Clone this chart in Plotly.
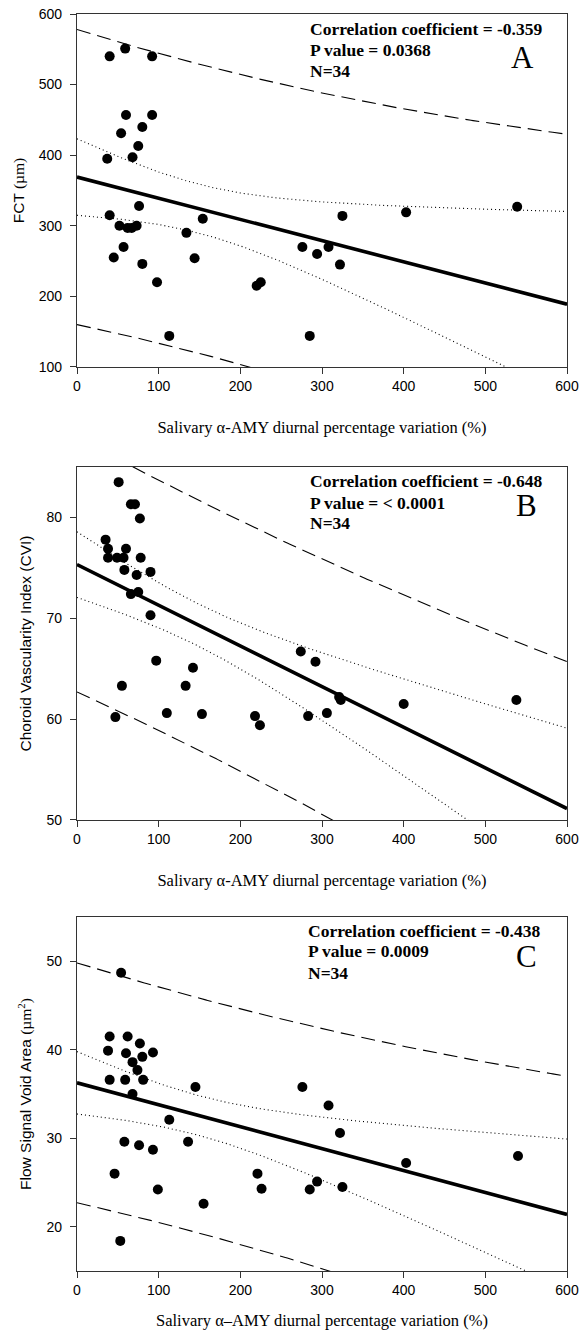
import numpy as np
import plotly.graph_objects as go

# ---------------- data ----------------
# Panel A : FCT (um)
amy_a = [40, 59, 92, 60, 92, 80, 54, 75, 37, 68,
         40, 76, 52, 62, 67, 73, 57, 45, 80, 98,
         113, 134, 154, 144, 220, 225, 276, 294, 308, 322,
         325, 285, 403, 539]
fct = [540, 551, 540, 457, 457, 440, 431, 413, 395, 397,
       315, 328, 300, 297, 297, 300, 270, 255, 246, 220,
       144, 290, 310, 254, 215, 220, 270, 260, 270, 245,
       314, 144, 319, 327]

# Panel B : Choroid Vascularity Index (CVI)
amy_b = [51, 66, 71, 77, 35, 38, 60, 38, 49, 57,
         78, 58, 73, 90, 66, 75, 90, 97, 142, 55,
         133, 274, 292, 321, 323, 400, 538, 218, 224, 283,
         306, 47, 110, 153]
cvi = [83.5, 81.3, 81.3, 79.9, 77.8, 76.9, 76.9, 76.0, 76.0, 76.0,
       76.0, 74.8, 74.3, 74.6, 72.4, 72.6, 70.3, 65.8, 65.1, 63.3,
       63.3, 66.7, 65.7, 62.2, 61.9, 61.5, 61.9, 60.3, 59.4, 60.3,
       60.6, 60.2, 60.6, 60.5]

# Panel C : Flow Signal Void Area (um^2)
amy_c = [54, 40, 62, 77, 38, 60, 80, 93, 68, 74,
         40, 59, 81, 145, 68, 113, 276, 308, 322, 403,
         540, 221, 226, 285, 294, 325, 58, 76, 93, 46,
         53, 99, 136, 155]
fsva = [48.7, 41.5, 41.5, 40.7, 39.9, 39.6, 39.2, 39.7, 38.6, 37.7,
        36.6, 36.6, 36.6, 35.8, 35.0, 32.1, 35.8, 33.7, 30.6, 27.2,
        28.0, 26.0, 24.3, 24.2, 25.1, 24.5, 29.6, 29.2, 28.7, 26.0,
        18.4, 24.2, 29.6, 22.6]

x_ticks = [0, 100, 200, 300, 400, 500, 600]
stats_a = ["Correlation coefficient = -0.359", "P value = 0.0368", "N=34"]
stats_b = ["Correlation coefficient = -0.648", "P value = < 0.0001", "N=34"]
stats_c = ["Correlation coefficient = -0.438", "P value = 0.0009", "N=34"]

T_CRIT = 2.0369  # t(0.975, df=32)


def regression_bands(x, y, grid):
    x = np.asarray(x, float)
    y = np.asarray(y, float)
    n = len(x)
    b1, b0 = np.polyfit(x, y, 1)
    resid = y - (b0 + b1 * x)
    s = np.sqrt(np.sum(resid ** 2) / (n - 2))
    xbar = x.mean()
    sxx = np.sum((x - xbar) ** 2)
    yhat = b0 + b1 * grid
    se_c = s * np.sqrt(1.0 / n + (grid - xbar) ** 2 / sxx)
    se_p = s * np.sqrt(1.0 + 1.0 / n + (grid - xbar) ** 2 / sxx)
    return yhat, yhat - T_CRIT * se_c, yhat + T_CRIT * se_c, yhat - T_CRIT * se_p, yhat + T_CRIT * se_p


grid = np.linspace(0, 600, 241)

fig = go.Figure()

panels = [
    ("x", "y", amy_a, fct),
    ("x2", "y2", amy_b, cvi),
    ("x3", "y3", amy_c, fsva),
]

for xa, ya, xs, ys in panels:
    yhat, clo, chi, plo, phi = regression_bands(xs, ys, grid)
    for band in (plo, phi):
        fig.add_trace(go.Scatter(x=grid, y=band, mode="lines", xaxis=xa, yaxis=ya,
                                 line=dict(color="black", width=1.1, dash="14px,7px"),
                                 showlegend=False, hoverinfo="skip"))
    for band in (clo, chi):
        fig.add_trace(go.Scatter(x=grid, y=band, mode="lines", xaxis=xa, yaxis=ya,
                                 line=dict(color="black", width=1.1, dash="1px,3px"),
                                 showlegend=False, hoverinfo="skip"))
    fig.add_trace(go.Scatter(x=grid, y=yhat, mode="lines", xaxis=xa, yaxis=ya,
                             line=dict(color="black", width=3.6),
                             showlegend=False, hoverinfo="skip"))
    fig.add_trace(go.Scatter(x=xs, y=ys, mode="markers", xaxis=xa, yaxis=ya,
                             marker=dict(color="black", size=10, line=dict(width=0)),
                             showlegend=False, cliponaxis=False))

axis_common = dict(showline=True, mirror=True, linecolor="#333333", linewidth=1.4,
                   ticks="outside", ticklen=6, tickwidth=1.2, tickcolor="#333333",
                   showgrid=False, zeroline=False, automargin=False,
                   tickfont=dict(family="Liberation Sans, Arial", size=14, color="black"))

xtitle_font = dict(family="Liberation Serif, Times New Roman", size=16.5, color="black")
ytitle_font = dict(family="Liberation Sans, Arial", size=15.5, color="black")
serif = "Liberation Serif, Times New Roman"

fig.update_layout(
    width=579, height=1330,
    margin=dict(l=77, r=12, t=14, b=59, autoexpand=False),
    paper_bgcolor="white", plot_bgcolor="white",
    showlegend=False,
    xaxis=dict(domain=[0, 1], range=[0, 600], tickvals=x_ticks, anchor="y",
               title=dict(text="Salivary \u03b1-AMY diurnal percentage variation (%)",
                          font=xtitle_font, standoff=28), **axis_common),
    yaxis=dict(domain=[0.7192, 1], range=[100, 600], dtick=100, anchor="x", ticklabelstandoff=5,
               title=dict(text="FCT <span style=\"font-family:Liberation Serif\">(\u00b5m)</span>",
                          font=ytitle_font, standoff=10), **axis_common),
    xaxis2=dict(domain=[0, 1], range=[0, 600], tickvals=x_ticks, anchor="y2",
                title=dict(text="Salivary \u03b1-AMY diurnal percentage variation (%)",
                           font=xtitle_font, standoff=28), **axis_common),
    yaxis2=dict(domain=[0.3588, 0.6396], range=[50, 85], tickvals=[50, 60, 70, 80], anchor="x2",
                ticklabelstandoff=5,
                title=dict(text="Choroid Vascularity Index (CVI)", font=ytitle_font, standoff=10),
                **axis_common),
    xaxis3=dict(domain=[0, 1], range=[0, 600], tickvals=x_ticks, anchor="y3",
                title=dict(text="Salivary \u03b1\u2013AMY diurnal percentage variation (%)",
                           font=xtitle_font, standoff=22), **axis_common),
    yaxis3=dict(domain=[0, 0.2816], range=[15, 55], tickvals=[20, 30, 40, 50], anchor="x3",
                ticklabelstandoff=5,
                title=dict(text="Flow Signal Void Area <span style=\"font-family:Liberation Serif\">(\u00b5m<sup>2</sup>)</span>",
                           font=ytitle_font, standoff=10), **axis_common),
)

annots = []
layout_info = [
    ("x", "y", stats_a, 0.4714, [0.9575, 0.898, 0.8385], "A", 0.910, 0.878),
    ("x2", "y2", stats_b, 0.4714, [0.961, 0.899, 0.8405], "B", 0.918, 0.890),
    ("x3", "y3", stats_c, 0.467, [0.961, 0.903, 0.842], "C", 0.918, 0.889),
]
for xa, ya, lines, xl, ys_, letter, lx, ly in layout_info:
    for txt, yy in zip(lines, ys_):
        annots.append(dict(text="<b>" + txt + "</b>", xref=xa + " domain", yref=ya + " domain",
                           x=xl, y=yy, xanchor="left", yanchor="middle", showarrow=False,
                           font=dict(family=serif, size=17.5, color="black")))
    annots.append(dict(text=letter, xref=xa + " domain", yref=ya + " domain",
                       x=lx, y=ly, xanchor="center", yanchor="middle", showarrow=False,
                       font=dict(family=serif, size=31, color="black")))
fig.update_layout(annotations=annots)

# remove the browser's default 8px body margin so the figure fills the window exactly
fig.write_html("out.html",
               config={"displayModeBar": False},
               post_script="document.body.style.margin='0';document.body.style.overflow='hidden';")
